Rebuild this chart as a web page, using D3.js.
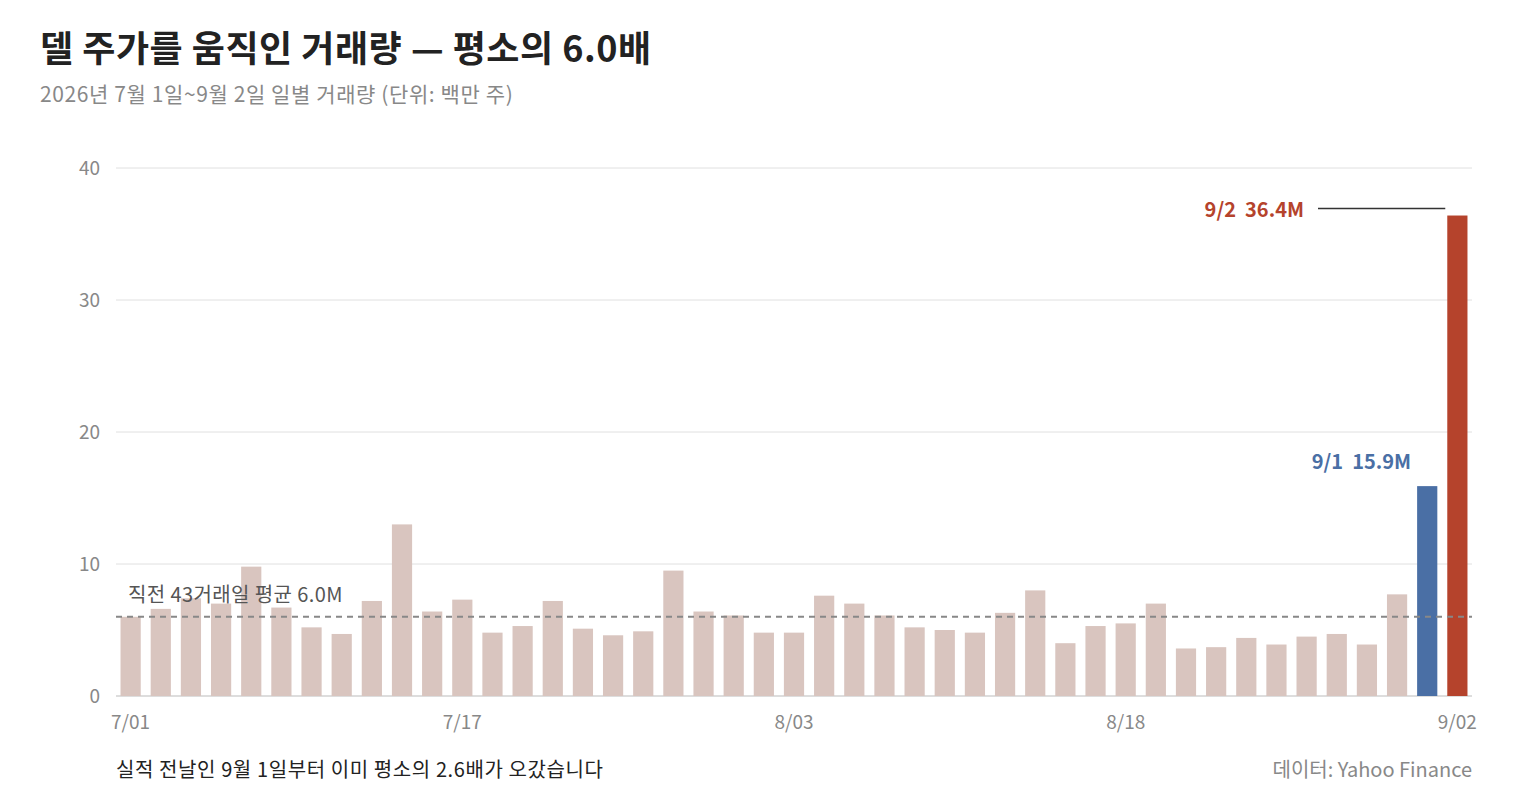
<!DOCTYPE html>
<html><head><meta charset="utf-8">
<script src="https://cdn.jsdelivr.net/npm/d3@7"></script>
<style>body{margin:0;background:#fff;font-family:"Noto Sans CJK KR","Noto Sans",sans-serif} text{white-space:pre}</style>
</head><body><div id="chart"></div>
<script>
const dates = ["7/01","7/02","7/06","7/07","7/08","7/09","7/10","7/13","7/14","7/15","7/16","7/17",
  "7/20","7/21","7/22","7/23","7/24","7/27","7/28","7/29","7/30","7/31",
  "8/03","8/04","8/05","8/06","8/07","8/10","8/11","8/12","8/13","8/14","8/17","8/18",
  "8/19","8/20","8/21","8/24","8/25","8/26","8/27","8/28","8/31","9/01","9/02"];
const volumes = [6.0,6.6,7.4,7.0,9.8,6.7,5.2,4.7,7.2,13.0,6.4,7.3,4.8,5.3,7.2,5.1,4.6,4.9,9.5,6.4,6.1,
  4.8,4.8,7.6,7.0,6.1,5.2,5.0,4.8,6.3,8.0,4.0,5.3,5.5,7.0,3.6,3.7,4.4,3.9,4.5,4.7,3.9,7.7,15.9,36.4];
const yTicks = [0,10,20,30,40];
const xTickLabels = ["7/01","7/17","8/03","8/18","9/02"];
const avg = 6.0;

const W = 1520, H = 800, m = {l:116, r:48, t:168, b:104};
const svg = d3.select("#chart").append("svg").attr("width",W).attr("height",H);

const x = d3.scaleBand().domain(dates).range([m.l, W-m.r]).paddingInner(0.33).paddingOuter(0.15);
const y = d3.scaleLinear().domain([0,40]).range([H-m.b, m.t]);

svg.append("text").attr("x",40).attr("y",62).attr("font-size",36).attr("font-weight",700)
  .attr("fill","#222").attr("letter-spacing",0.5).text("델 주가를 움직인 거래량 — 평소의 6.0배");
svg.append("text").attr("x",40).attr("y",102).attr("font-size",21).attr("fill","#888")
  .attr("letter-spacing",0.6).text("2026년 7월 1일~9월 2일 일별 거래량 (단위: 백만 주)");

svg.selectAll(".grid").data(yTicks).enter().append("line")
  .attr("x1",m.l).attr("x2",W-m.r).attr("y1",d=>y(d)).attr("y2",d=>y(d))
  .attr("stroke",d=>d===0?"#bbb":"#e0e0e0");
svg.selectAll(".yl").data(yTicks).enter().append("text")
  .attr("x",100).attr("y",d=>y(d)+7).attr("text-anchor","end").attr("font-size",19)
  .attr("fill","#888").text(d=>d);

const color = d => d==="9/02" ? "#b5432c" : d==="9/01" ? "#4a6fa5" : "#d9c5bf";
svg.selectAll(".bar").data(dates).enter().append("rect")
  .attr("x",d=>x(d)).attr("width",x.bandwidth())
  .attr("y",(d,i)=>y(volumes[i])).attr("height",(d,i)=>y(0)-y(volumes[i]))
  .attr("fill",color);

svg.append("line").attr("x1",m.l).attr("x2",W-m.r).attr("y1",y(avg)).attr("y2",y(avg))
  .attr("stroke","#888").attr("stroke-width",2).attr("stroke-dasharray","6,5");
svg.append("text").attr("x",128).attr("y",y(avg)-15).attr("font-size",20).attr("fill","#555")
  .attr("letter-spacing",0.4).text("직전 43거래일 평균 6.0M");

svg.selectAll(".xl").data(xTickLabels).enter().append("text")
  .attr("x",d=>x(d)+x.bandwidth()/2).attr("y",H-m.b+33).attr("text-anchor","middle")
  .attr("font-size",19).attr("fill","#888").text(d=>d);

const i1 = dates.indexOf("9/01"), i2 = dates.indexOf("9/02");
svg.append("text").attr("x",x("9/01")-6).attr("y",y(volumes[i1])-17)
  .attr("text-anchor","end").attr("font-size",20).attr("font-weight",700).attr("fill","#4a6fa5")
  .text("9/1  15.9M");
svg.append("text").attr("x",1304).attr("y",y(volumes[i2])+1)
  .attr("text-anchor","end").attr("font-size",20).attr("font-weight",700).attr("fill","#b5432c")
  .text("9/2  36.4M");
svg.append("line").attr("x1",1318).attr("x2",x("9/02")-2)
  .attr("y1",y(volumes[i2])-7).attr("y2",y(volumes[i2])-7).attr("stroke","#333").attr("stroke-width",1.5);

svg.append("text").attr("x",116).attr("y",777).attr("font-size",20).attr("fill","#222")
  .attr("letter-spacing",0.6).text("실적 전날인 9월 1일부터 이미 평소의 2.6배가 오갔습니다");
svg.append("text").attr("x",W-m.r).attr("y",777).attr("text-anchor","end").attr("font-size",20)
  .attr("fill","#888").text("데이터: Yahoo Finance");
</script></body></html>
